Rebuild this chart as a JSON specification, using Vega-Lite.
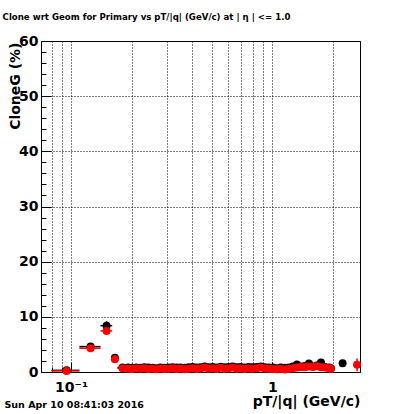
{
 "$schema": "https://vega.github.io/schema/vega-lite/v6.json",
 "width": 319,
 "height": 331,
 "autosize": "none",
 "padding": {"left": 41, "top": 41, "right": 40, "bottom": 42},
 "background": "white",
 "title": {"text": "Clone wrt Geom for Primary vs pT/|q| (GeV/c) at | η | <= 1.0", "anchor": "middle", "frame": "group", "dx": -54, "offset": 5, "baseline": "alphabetic", "font": "DejaVu Sans", "fontSize": 8.6, "fontWeight": "bold", "color": "black"},
 "data": {"values": [
  {"s": "black", "pt": 0.095, "val": 0.3, "lo": 0.08, "hi": 0.11, "ylo": 0.1, "yhi": 0.5},
  {"s": "black", "pt": 0.125, "val": 4.6, "lo": 0.11, "hi": 0.14, "ylo": 4.0, "yhi": 5.2},
  {"s": "black", "pt": 0.15, "val": 8.4, "lo": 0.14, "hi": 0.16, "ylo": 7.6, "yhi": 9.2},
  {"s": "black", "pt": 0.165, "val": 2.6, "lo": 0.16, "hi": 0.17, "ylo": 2.1, "yhi": 3.1},
  {"s": "black", "pt": 0.18, "val": 0.8, "lo": 0.17, "hi": 0.19, "ylo": 0.6, "yhi": 1.0},
  {"s": "black", "pt": 0.192, "val": 0.8},
  {"s": "black", "pt": 0.201, "val": 0.75},
  {"s": "black", "pt": 0.211, "val": 0.8},
  {"s": "black", "pt": 0.221, "val": 0.75},
  {"s": "black", "pt": 0.231, "val": 0.85},
  {"s": "black", "pt": 0.242, "val": 0.8},
  {"s": "black", "pt": 0.253, "val": 0.75},
  {"s": "black", "pt": 0.265, "val": 0.7},
  {"s": "black", "pt": 0.278, "val": 0.8},
  {"s": "black", "pt": 0.291, "val": 0.75},
  {"s": "black", "pt": 0.304, "val": 0.8},
  {"s": "black", "pt": 0.319, "val": 0.85},
  {"s": "black", "pt": 0.334, "val": 0.8},
  {"s": "black", "pt": 0.349, "val": 0.8},
  {"s": "black", "pt": 0.366, "val": 0.75},
  {"s": "black", "pt": 0.383, "val": 0.85},
  {"s": "black", "pt": 0.401, "val": 0.9},
  {"s": "black", "pt": 0.42, "val": 0.8},
  {"s": "black", "pt": 0.439, "val": 0.85},
  {"s": "black", "pt": 0.46, "val": 1.0},
  {"s": "black", "pt": 0.482, "val": 0.85},
  {"s": "black", "pt": 0.504, "val": 0.9},
  {"s": "black", "pt": 0.528, "val": 0.8},
  {"s": "black", "pt": 0.553, "val": 0.95},
  {"s": "black", "pt": 0.579, "val": 0.85},
  {"s": "black", "pt": 0.606, "val": 0.9},
  {"s": "black", "pt": 0.634, "val": 1.0},
  {"s": "black", "pt": 0.664, "val": 0.85},
  {"s": "black", "pt": 0.695, "val": 0.9},
  {"s": "black", "pt": 0.728, "val": 0.8},
  {"s": "black", "pt": 0.762, "val": 0.9},
  {"s": "black", "pt": 0.798, "val": 0.85},
  {"s": "black", "pt": 0.835, "val": 0.9},
  {"s": "black", "pt": 0.875, "val": 1.0},
  {"s": "black", "pt": 0.916, "val": 0.85},
  {"s": "black", "pt": 0.959, "val": 0.8},
  {"s": "black", "pt": 1.004, "val": 0.8},
  {"s": "black", "pt": 1.05, "val": 0.7},
  {"s": "black", "pt": 1.1, "val": 0.8},
  {"s": "black", "pt": 1.152, "val": 0.75},
  {"s": "black", "pt": 1.206, "val": 0.8},
  {"s": "black", "pt": 1.262, "val": 1.0},
  {"s": "black", "pt": 1.322, "val": 1.35},
  {"s": "black", "pt": 1.384, "val": 1.0},
  {"s": "black", "pt": 1.449, "val": 1.1},
  {"s": "black", "pt": 1.517, "val": 1.55},
  {"s": "black", "pt": 1.588, "val": 1.0},
  {"s": "black", "pt": 1.662, "val": 1.2},
  {"s": "black", "pt": 1.741, "val": 1.7},
  {"s": "black", "pt": 1.822, "val": 0.9},
  {"s": "black", "pt": 1.908, "val": 0.8},
  {"s": "black", "pt": 1.95, "val": 0.7},
  {"s": "black", "pt": 2.23, "val": 1.6, "ylo": 1.1, "yhi": 2.1},
  {"s": "red", "pt": 0.095, "val": 0.2, "lo": 0.08, "hi": 0.11, "ylo": 0.0, "yhi": 0.4},
  {"s": "red", "pt": 0.125, "val": 4.3, "lo": 0.11, "hi": 0.14, "ylo": 3.8, "yhi": 4.8},
  {"s": "red", "pt": 0.15, "val": 7.45, "lo": 0.14, "hi": 0.16, "ylo": 6.9, "yhi": 8.0},
  {"s": "red", "pt": 0.165, "val": 2.3, "lo": 0.16, "hi": 0.17, "ylo": 1.9, "yhi": 2.7},
  {"s": "red", "pt": 0.18, "val": 0.7, "lo": 0.17, "hi": 0.19, "ylo": 0.5, "yhi": 0.9},
  {"s": "red", "pt": 0.192, "val": 0.6},
  {"s": "red", "pt": 0.201, "val": 0.55},
  {"s": "red", "pt": 0.211, "val": 0.65},
  {"s": "red", "pt": 0.221, "val": 0.6},
  {"s": "red", "pt": 0.231, "val": 0.7},
  {"s": "red", "pt": 0.242, "val": 0.55},
  {"s": "red", "pt": 0.253, "val": 0.6},
  {"s": "red", "pt": 0.265, "val": 0.5},
  {"s": "red", "pt": 0.278, "val": 0.65},
  {"s": "red", "pt": 0.291, "val": 0.55},
  {"s": "red", "pt": 0.304, "val": 0.6},
  {"s": "red", "pt": 0.319, "val": 0.7},
  {"s": "red", "pt": 0.334, "val": 0.55},
  {"s": "red", "pt": 0.349, "val": 0.65},
  {"s": "red", "pt": 0.366, "val": 0.5},
  {"s": "red", "pt": 0.383, "val": 0.6},
  {"s": "red", "pt": 0.401, "val": 0.7},
  {"s": "red", "pt": 0.42, "val": 0.55},
  {"s": "red", "pt": 0.439, "val": 0.65},
  {"s": "red", "pt": 0.46, "val": 0.8},
  {"s": "red", "pt": 0.482, "val": 0.6},
  {"s": "red", "pt": 0.504, "val": 0.7},
  {"s": "red", "pt": 0.528, "val": 0.55},
  {"s": "red", "pt": 0.553, "val": 0.75},
  {"s": "red", "pt": 0.579, "val": 0.6},
  {"s": "red", "pt": 0.606, "val": 0.65},
  {"s": "red", "pt": 0.634, "val": 0.8},
  {"s": "red", "pt": 0.664, "val": 0.6},
  {"s": "red", "pt": 0.695, "val": 0.7},
  {"s": "red", "pt": 0.728, "val": 0.55},
  {"s": "red", "pt": 0.762, "val": 0.65},
  {"s": "red", "pt": 0.798, "val": 0.6},
  {"s": "red", "pt": 0.835, "val": 0.7},
  {"s": "red", "pt": 0.875, "val": 0.8},
  {"s": "red", "pt": 0.916, "val": 0.65},
  {"s": "red", "pt": 0.959, "val": 0.6},
  {"s": "red", "pt": 1.004, "val": 0.55},
  {"s": "red", "pt": 1.05, "val": 0.5},
  {"s": "red", "pt": 1.1, "val": 0.6},
  {"s": "red", "pt": 1.152, "val": 0.45},
  {"s": "red", "pt": 1.206, "val": 0.55},
  {"s": "red", "pt": 1.262, "val": 0.7},
  {"s": "red", "pt": 1.322, "val": 0.8},
  {"s": "red", "pt": 1.384, "val": 0.9},
  {"s": "red", "pt": 1.449, "val": 0.85},
  {"s": "red", "pt": 1.517, "val": 1.0},
  {"s": "red", "pt": 1.588, "val": 0.9},
  {"s": "red", "pt": 1.662, "val": 1.05},
  {"s": "red", "pt": 1.741, "val": 0.85},
  {"s": "red", "pt": 1.822, "val": 0.8},
  {"s": "red", "pt": 1.908, "val": 0.7},
  {"s": "red", "pt": 1.95, "val": 0.6},
  {"s": "red", "pt": 2.63, "val": 1.3, "ylo": 0.15, "yhi": 2.45}
 ]},
 "resolve": {"axis": {"x": "independent", "y": "independent"}},
 "layer": [
  {
   "transform": [{"filter": "isValid(datum.lo)"}],
   "mark": {"type": "rule", "strokeWidth": 1.5},
   "encoding": {
    "x": {"field": "lo", "type": "quantitative", "scale": {"type": "log", "domain": [0.0709, 2.72], "nice": false},
     "axis": {"orient": "bottom", "title": "Sun Apr 10 08:41:03 2016", "domain": false, "ticks": false, "labels": false, "grid": false, "titleX": -37, "titleY": 35.5, "titleAlign": "left", "titleAnchor": "start", "titleBaseline": "alphabetic", "titleFontSize": 9.5}},
    "x2": {"field": "hi"},
    "y": {"field": "val", "type": "quantitative", "scale": {"domain": [0, 60], "nice": false, "zero": false}, "axis": null},
    "color": {"field": "s", "type": "nominal", "scale": {"domain": ["black", "red"], "range": ["black", "#ff0000"]}, "legend": null}
   }
  },
  {
   "transform": [{"filter": "isValid(datum.ylo)"}],
   "mark": {"type": "rule", "strokeWidth": 1.5},
   "encoding": {
    "x": {"field": "pt", "type": "quantitative", "scale": {"type": "log", "domain": [0.0709, 2.72], "nice": false}, "axis": null},
    "y": {"field": "ylo", "type": "quantitative", "scale": {"domain": [0, 60], "nice": false, "zero": false}, "axis": null},
    "y2": {"field": "yhi"},
    "color": {"field": "s", "type": "nominal", "scale": {"domain": ["black", "red"], "range": ["black", "#ff0000"]}, "legend": null}
   }
  },
  {
   "mark": {"type": "point", "filled": true, "shape": "circle", "size": 64, "opacity": 1},
   "encoding": {
    "x": {"field": "pt", "type": "quantitative", "scale": {"type": "log", "domain": [0.0709, 2.72], "nice": false},
     "axis": {"orient": "bottom", "title": "pT/|q| (GeV/c)", "values": [0.08, 0.09, 0.1, 0.2, 0.3, 0.4, 0.5, 0.6, 0.7, 0.8, 0.9, 1, 2],
      "labelExpr": "datum.value == 0.1 ? '10⁻¹' : (datum.value == 1 ? '1' : '')",
      "grid": true,
      "tickSize": {"condition": {"test": "datum.value == 0.1 || datum.value == 1", "value": -10}, "value": -5},
      "labelPadding": 18, "labelBaseline": "top", "labelAlign": "center",
      "titleX": 319, "titleY": 33.5, "titleAlign": "right", "titleAnchor": "end", "titleBaseline": "alphabetic"}},
    "y": {"field": "val", "type": "quantitative", "scale": {"domain": [0, 60], "nice": false, "zero": false},
     "axis": {"orient": "left", "title": "CloneG (%)", "values": [0, 2, 4, 6, 8, 10, 12, 14, 16, 18, 20, 22, 24, 26, 28, 30, 32, 34, 36, 38, 40, 42, 44, 46, 48, 50, 52, 54, 56, 58, 60],
      "labelExpr": "datum.value % 10 == 0 ? datum.label : ''",
      "grid": true,
      "gridOpacity": {"condition": {"test": "datum.value % 10 == 0", "value": 1}, "value": 0},
      "tickSize": {"condition": {"test": "datum.value % 10 == 0", "value": -10}, "value": -5},
      "labelPadding": 13, "labelAlign": "right", "labelBaseline": "middle",
      "titleAngle": -90, "titleX": -26, "titleY": 1, "titleAlign": "right", "titleBaseline": "middle", "titleAnchor": "end"}},
    "color": {"field": "s", "type": "nominal", "scale": {"domain": ["black", "red"], "range": ["black", "#ff0000"]}, "legend": null}
   }
  }
 ],
 "config": {
  "view": {"stroke": "black", "strokeWidth": 1},
  "axis": {"labelFont": "DejaVu Sans", "labelFontWeight": "bold", "labelFontSize": 14, "labelColor": "black", "titleFont": "DejaVu Sans", "titleFontWeight": "bold", "titleFontSize": 14, "titleColor": "black", "domain": false, "tickColor": "black", "gridColor": "black", "gridDash": [1, 2], "gridWidth": 1, "labelOverlap": false, "labelFlush": false}
 }
}
